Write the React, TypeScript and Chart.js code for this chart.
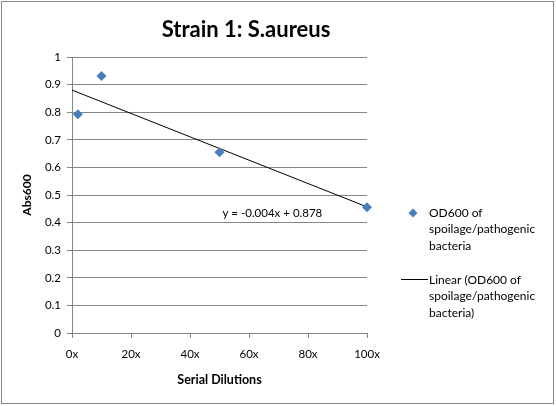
import { Chart, registerables } from "chart.js"
import { useEffect, useRef } from "react"

Chart.register(...registerables)

const dilutions = [2, 10, 50, 100]
const absorbance = [0.793, 0.931, 0.655, 0.456]
const xTicks = [0, 20, 40, 60, 80, 100]
const chartTitle = "Strain 1: S.aureus"
const seriesLabel = ["OD600 of", "spoilage/pathogenic", "bacteria"]
const trendLabel = ["Linear (OD600 of", "spoilage/pathogenic", "bacteria)"]
const equationText = "y = -0.004x + 0.878"

const FONT = "Lato, 'Open Sans', sans-serif"
const BLUE = "#4a7ebb"
const GREY = "#868686"

// least squares fit, same as Excel's linear trendline
function fitLine(xs: number[], ys: number[]) {
	const n = xs.length
	const mx = xs.reduce((a, b) => a + b, 0) / n
	const my = ys.reduce((a, b) => a + b, 0) / n
	let sxy = 0
	let sxx = 0
	xs.forEach((x, i) => {
		sxy += (x - mx) * (ys[i] - my)
		sxx += (x - mx) * (x - mx)
	})
	const slope = sxy / sxx
	return { slope, intercept: my - slope * mx }
}

const extras = {
	id: "extras",
	afterDraw(chart: any) {
		const { ctx, chartArea, scales } = chart
		ctx.save()
		// outer frame
		ctx.strokeStyle = GREY
		ctx.lineWidth = 1
		ctx.strokeRect(1.5, 1.5, 552, 402)

		ctx.fillStyle = "#000"
		ctx.textBaseline = "middle"
		ctx.textAlign = "center"
		ctx.font = `bold 22px ${FONT}`
		ctx.fillText(chartTitle, 246, 30)

		ctx.textAlign = "left"
		ctx.font = `11.5px ${FONT}`
		ctx.fillText(equationText, scales.x.getPixelForValue(51), scales.y.getPixelForValue(0.432))

		const mx = chartArea.right + 46
		const tx = chartArea.right + 62
		// diamond marker
		ctx.fillStyle = BLUE
		ctx.beginPath()
		ctx.moveTo(mx, 208.5)
		ctx.lineTo(mx + 4.5, 213)
		ctx.lineTo(mx, 217.5)
		ctx.lineTo(mx - 4.5, 213)
		ctx.closePath()
		ctx.fill()

		ctx.font = `12px ${FONT}`
		ctx.fillStyle = "#000"
		seriesLabel.forEach((t, i) => ctx.fillText(t, tx, 213 + i * 16.5))

		ctx.strokeStyle = "#000"
		ctx.beginPath()
		ctx.moveTo(chartArea.right + 34, 279.5)
		ctx.lineTo(chartArea.right + 61, 279.5)
		ctx.stroke()
		trendLabel.forEach((t, i) => ctx.fillText(t, tx, 280 + i * 16.5))
		ctx.restore()
	}
}

export default function App() {
	const canvasRef = useRef<HTMLCanvasElement>(null)

	useEffect(() => {
		document.body.style.margin = "0"
		const ctx = canvasRef.current?.getContext("2d") as CanvasRenderingContext2D
		const { slope, intercept } = fitLine(dilutions, absorbance)
		const trend = [0, 100].map((x) => ({ x, y: intercept + slope * x }))

		const chart = new Chart(ctx, {
			type: "scatter",
			data: {
				datasets: [
					{
						label: seriesLabel.join(" "),
						data: dilutions.map((x, i) => ({ x, y: absorbance[i] })),
						pointStyle: "rectRot",
						pointRadius: 5,
						backgroundColor: BLUE,
						borderColor: BLUE,
						borderWidth: 0,
						clip: false
					},
					{
						label: trendLabel.join(" "),
						data: trend,
						showLine: true,
						borderColor: "#000",
						borderWidth: 1,
						pointRadius: 0,
						clip: false
					}
				]
			},
			options: {
				animation: false,
				responsive: false,
				layout: { padding: { left: 0, right: 189, top: 57, bottom: 0 } },
				plugins: {
					legend: { display: false },
					tooltip: { enabled: false },
					title: { display: false }
				},
				scales: {
					x: {
						type: "linear",
						min: 0,
						max: 100,
						afterBuildTicks: (s: any) => {
							s.ticks = xTicks.map((v) => ({ value: v }))
						},
						afterFit: (s: any) => {
							s.height = 73
						},
						ticks: {
							callback: (v: any) => v + "x",
							color: "#000",
							font: { family: FONT, size: 11.5 },
							padding: 9,
							maxRotation: 0
						},
						grid: { drawOnChartArea: false, drawTicks: true, tickLength: 5, color: GREY },
						border: { color: GREY },
						title: {
							display: true,
							text: "Serial Dilutions",
							color: "#000",
							font: { family: FONT, size: 12.5, weight: "bold" },
							padding: { top: 4, bottom: 19 }
						}
					},
					y: {
						min: 0,
						max: 1,
						afterFit: (s: any) => {
							s.width = 72
						},
						ticks: {
							stepSize: 0.1,
							callback: (v: any) => String(Math.round(v * 10) / 10),
							color: "#000",
							font: { family: FONT, size: 11.5 },
							padding: 6
						},
						grid: { color: GREY, tickLength: 5 },
						border: { color: GREY },
						title: {
							display: true,
							text: "Abs600",
							color: "#000",
							font: { family: FONT, size: 12, weight: "bold" },
							padding: { top: 20, bottom: 0 }
						}
					}
				}
			},
			plugins: [extras]
		})

		return () => {
			chart.destroy()
		}
	}, [])

	return (
		<canvas ref={canvasRef} width={556} height={406}>
			Your browser does not support the canvas element.
		</canvas>
	)
}
